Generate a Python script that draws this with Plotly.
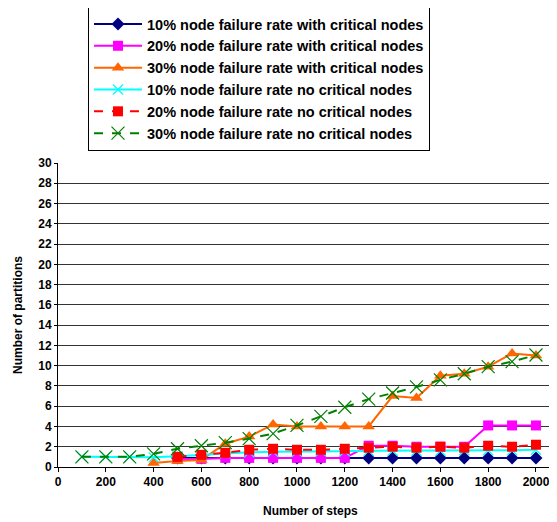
import plotly.graph_objects as go

steps = [100, 200, 300, 400, 500, 600, 700, 800, 900, 1000,
         1100, 1200, 1300, 1400, 1500, 1600, 1700, 1800, 1900, 2000]

n = None
crit10 = [n, n, n, n, 0.9, 0.9, 0.9, 0.9, 0.9, 0.9,
          0.9, 0.9, 0.9, 0.9, 0.9, 0.9, 0.9, 0.9, 0.9, 0.9]
crit20 = [n, n, n, n, 0.8, 0.8, 0.9, 0.9, 0.9, 0.9,
          0.9, 0.9, 2.1, 2.1, 2.0, 2.0, 2.0, 4.1, 4.1, 4.1]
crit30 = [n, n, n, 0.4, 0.6, 0.7, 2.3, 3.0, 4.2, 4.0,
          4.0, 4.0, 4.0, 7.0, 6.8, 9.0, 9.2, 9.9, 11.2, 11.0]
nocrit10 = [1.0, 1.0, 1.0, 0.95, 1.05, 1.2, 1.35, 1.45, 1.5, 1.5,
            1.55, 1.55, 1.6, 1.6, 1.6, 1.6, 1.65, 1.65, 1.65, 1.7]
nocrit20 = [n, n, n, n, 1.0, 1.2, 1.4, 1.7, 1.8, 1.7,
            1.7, 1.8, 1.9, 2.0, 1.9, 2.0, 1.9, 2.1, 2.0, 2.2]
nocrit30 = [1.0, 1.0, 1.0, 1.3, 1.8, 2.1, 2.4, 2.8, 3.3, 4.1,
            5.0, 5.9, 6.7, 7.3, 7.9, 8.6, 9.2, 9.9, 10.4, 11.05]

names = [
    "10% node failure rate with critical nodes",
    "20% node failure rate with critical nodes",
    "30% node failure rate with critical nodes",
    "10% node failure rate no critical nodes",
    "20% node failure rate no critical nodes",
    "30% node failure rate no critical nodes",
]

x_ticks = list(range(0, 2001, 200))
y_ticks = list(range(0, 31, 2))

FONT = "Liberation Sans, Arial, sans-serif"

# page has an 8px body margin: screen = figure + 8
PL, PT, PB = 58 - 8, 163 - 8, 467 - 8
W, H = 549, 514
PH = PB - PT
PW = W - PL

fig = go.Figure()
series = [
    (crit10, "#000080", "solid", "diamond", 10, 2, None),
    (crit20, "#FF00FF", "solid", "square", 10, 2, None),
    (crit30, "#FF6600", "solid", "triangle-up", 11, 2, None),
    (nocrit10, "#00FFFF", "solid", "x-thin", 10, 2, 1),
    (nocrit20, "#FF0000", "dash", "square", 10, 2, None),
    (nocrit30, "#008000", "dash", "x-thin", 13, 2, 1),
]
for (vals, col, dash, sym, sz, lw, mlw), name in zip(series, names):
    marker = dict(symbol=sym, size=sz, color=col)
    if mlw is not None:
        marker["line"] = dict(color=col, width=1.2)
    fig.add_trace(go.Scatter(
        x=steps, y=vals, name=name, mode="lines+markers",
        line=dict(color=col, width=lw, dash=dash),
        marker=marker, connectgaps=False,
    ))

def px(xs):
    return (xs - 8 - PL) / PW

def py(ys):
    return (PB - (ys - 8)) / PH

fig.update_layout(
    width=W, height=H,
    margin=dict(l=PL, r=0, t=PT, b=H - PB, autoexpand=False),
    paper_bgcolor="white", plot_bgcolor="white",
    font=dict(family=FONT, size=12, color="black"),
    legend=dict(
        x=px(88), y=py(7), xanchor="left", yanchor="top",
        bordercolor="black", borderwidth=1, bgcolor="white",
        font=dict(family=FONT, size=14.5, color="black", weight="bold"),
        tracegroupgap=0, itemwidth=48,
    ),
    annotations=[
        dict(text="Number of steps", xref="paper", yref="paper",
             x=px(310), y=py(511), xanchor="center", yanchor="middle",
             showarrow=False, font=dict(family=FONT, size=12, weight="bold")),
        dict(text="Number of partitions", xref="paper", yref="paper",
             x=px(18), y=py(315), xanchor="center", yanchor="middle",
             textangle=-90, showarrow=False, font=dict(family=FONT, size=12, weight="bold")),
    ],
)
fig.update_xaxes(
    range=[0, 2088], tickvals=x_ticks, ticktext=[str(v) for v in x_ticks],
    showgrid=False, showline=True, linecolor="black", linewidth=1,
    ticks="outside", ticklen=4, tickcolor="black",
    tickfont=dict(family=FONT, size=12, weight="bold"),
    automargin=False, zeroline=False,
)
fig.update_yaxes(
    range=[0, 30], tickvals=y_ticks,
    showgrid=True, gridcolor="#333333", gridwidth=1,
    showline=True, linecolor="black", linewidth=1,
    ticks="outside", ticklen=3, tickcolor="black",
    tickfont=dict(family=FONT, size=12, weight="bold"),
    automargin=False, zeroline=False,
)

fig.write_html("out.html")
